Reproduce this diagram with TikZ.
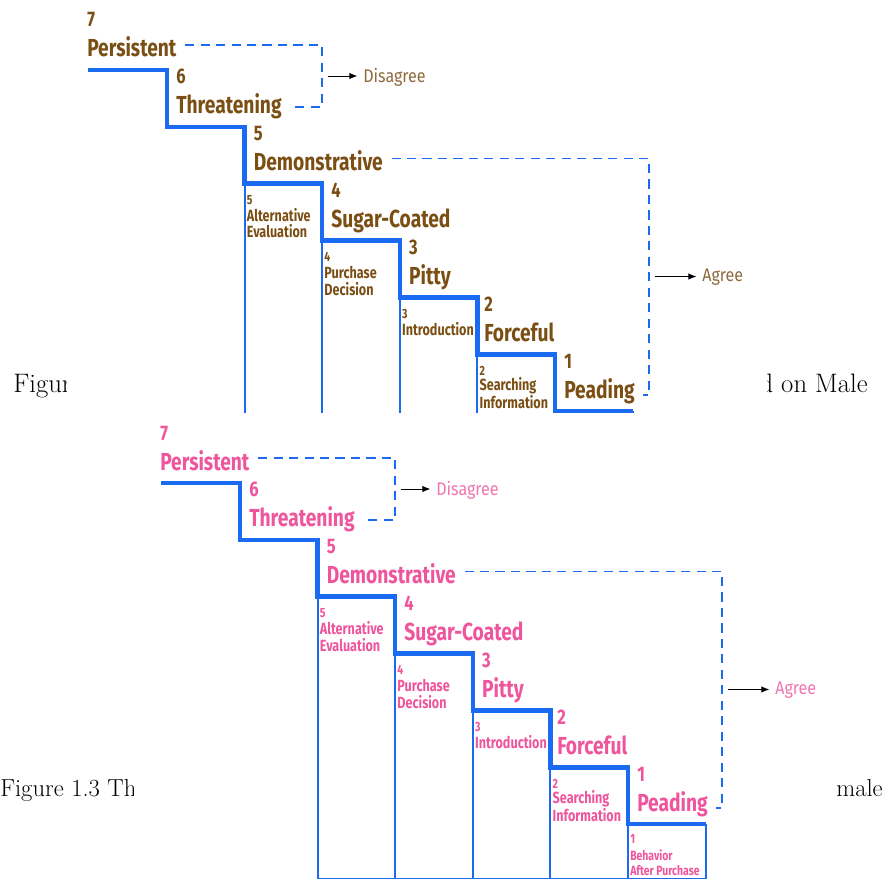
\documentclass[tikz,border=0pt]{standalone}
\usepackage{fontspec}
\usetikzlibrary{arrows.meta}
\newfontfamily\stairfont[FakeStretch=0.78]{Fira Sans}
\newfontfamily\notefont[FakeStretch=0.88]{Fira Sans}
\definecolor{stairblue}{HTML}{1B6BF2}
\definecolor{maleink}{HTML}{7B4F14}
\definecolor{malenote}{HTML}{8E6B3E}
\definecolor{femaleink}{HTML}{EF559D}
\definecolor{femalenote}{HTML}{F075B0}
\tikzset{
  stair/.style={draw=stairblue,line width=3.2pt,line join=miter},
  column/.style={draw=stairblue,line width=1.3pt},
  bracket/.style={draw=stairblue,line width=1.2pt,dash pattern=on 6.5pt off 4.5pt,
    shorten <=6pt,shorten >=6pt},
  pointer/.style={-{Latex[length=2mm,width=1.6mm]},black,line width=0.7pt,
    shorten <=4pt,shorten >=4pt},
  stepnum/.style={anchor=base west,inner sep=0pt,
    font=\stairfont\bfseries\fontsize{15}{18}\selectfont},
  stepname/.style={anchor=base west,inner sep=0pt,
    font=\stairfont\bfseries\fontsize{17.5}{20}\selectfont},
  boxnum/.style={anchor=base west,inner sep=0pt,
    font=\stairfont\bfseries\fontsize{9.5}{10}\selectfont},
  boxtext/.style={anchor=base west,inner sep=0pt,align=left,
    font=\stairfont\bfseries\fontsize{11.5}{11.4}\selectfont},
  verdict/.style={anchor=west,inner sep=0pt,
    font=\notefont\fontsize{13}{15}\selectfont},
  caption/.style={anchor=base west,inner sep=0pt,font=\fontsize{19}{22}\selectfont},
  sheet/.style={fill=white,draw=none}
}

% one staircase: prefix, shift, ink, note colour
\newcommand{\buyerstairs}[4]{%
  \begin{scope}[shift={(#2)}]
    % columns under the steps
    \foreach \px/\py in {244.6/183.7,322.2/240.6,399.8/297.4,477.4/354.3,555/411.1,632.6/411.1}
      \draw[column] (\px,\py) -- (\px,465.5);
    \draw[column] (244.6,465.5) -- (632.6,465.5);
    \draw[stair] (88,70) -| (167,126.9) -| (244.6,183.7) -| (322.2,240.6)
      -| (399.8,297.4) -| (477.4,354.3) -| (555,411.1) -- (632.6,411.1);
    % steps
    \foreach \k/\px/\py/\word in {7/87/57/Persistent,6/176/113.9/Threatening,
        5/253.6/170.7/Demonstrative,4/331.2/227.6/Sugar-Coated,3/408.8/284.4/Pitty,
        2/484/341.3/Forceful,1/564/398.1/Peading}{
      \node[stepnum,text=#3] (#1n\k) at (\px,\py-30) {\k};
      \node[stepname,text=#3] (#1s\k) at (\px,\py) {\word};
    }
    % buying stages (last y is the baseline of the last line)
    \foreach \k/\px/\py/\ty/\word in {5/246.6/183.7/238/{Alternative\\Evaluation},
        4/324.2/240.6/295/{Purchase\\Decision},3/401.8/297.4/335.5/Introduction,
        2/479.4/354.3/408.5/{Searching\\Information}}{
      \node[boxnum,text=#3] (#1b\k) at (\px,\py+21) {\k};
      \node[boxtext,text=#3] (#1t\k) at (\px,\ty) {\word};
    }
    % disagree
    \coordinate (#1dtop) at (322,45);
    \coordinate (#1dmid) at (322,76);
    \coordinate (#1dbot) at (322,107);
    \draw[bracket] (#1s7.east |- #1dtop) -- (#1dtop) -- (#1dbot) -- (#1s6.east |- #1dbot);
    \node[verdict,text=#4] (#1disagree) at (363,77) {Disagree};
    \draw[pointer] (#1dmid) -- (#1dmid -| #1disagree.west);
    % agree
    \coordinate (#1atop) at (649,158.5);
    \coordinate (#1amid) at (649,276.5);
    \coordinate (#1abot) at (649,395);
    \draw[bracket] (#1s5.east |- #1atop) -- (#1atop) -- (#1abot) -- (#1s1.east |- #1abot);
    \node[verdict,text=#4] (#1agree) at (702,277.5) {Agree};
    \draw[pointer] (#1amid) -- (#1amid -| #1agree.west);
  \end{scope}}

\begin{document}
\begin{tikzpicture}[x=0.025cm,y=-0.025cm]
  \useasboundingbox (0,0) rectangle (888,880);
  \fill[white] (0,0) rectangle (888,880);

  % figure 1.2
  \node[caption] (cap2a) at (13,392) {Figur};
  \node[caption,anchor=base east] (cap2b) at (868,392) {d on Male};
  \fill[sheet] (67,0) rectangle (767,413);
  \begin{scope}
    \clip (0,0) rectangle (888,413);
    \buyerstairs{m}{0,0}{maleink}{malenote}
  \end{scope}

  % figure 1.3
  \node[caption,font=\fontsize{17.5}{20}\selectfont] (cap3a) at (0,796) {Figure 1.3 Th};
  \node[caption,anchor=base east,font=\fontsize{17.5}{20}\selectfont] (cap3b) at (883,796) {male};
  \fill[sheet] (134,413) rectangle (828,880);
  \buyerstairs{f}{73,413}{femaleink}{femalenote}
  \begin{scope}[shift={(73,413)}]
    \node[boxnum,text=femaleink] (fb1) at (557,430) {1};
    \node[boxtext,text=femaleink,font=\stairfont\bfseries\fontsize{9.5}{10}\selectfont]
      (ft1) at (557,462) {Behavior\\After Purchase};
  \end{scope}
\end{tikzpicture}
\end{document}
